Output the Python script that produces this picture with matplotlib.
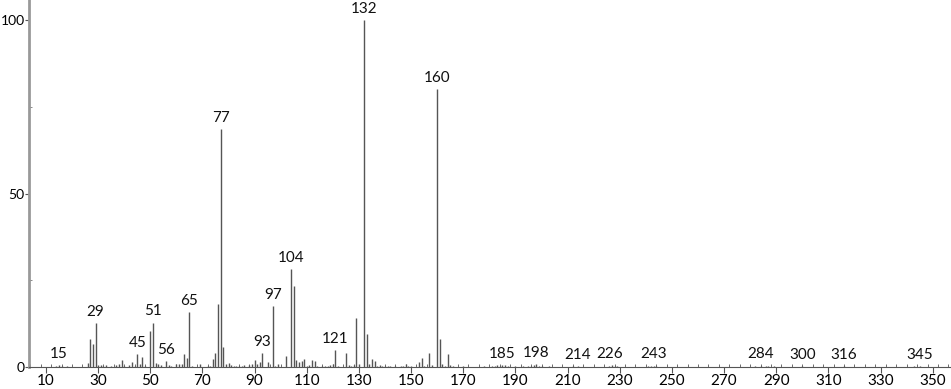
import matplotlib
matplotlib.use("Agg")
import matplotlib.pyplot as plt
from matplotlib.ticker import MultipleLocator

# m/z and relative intensity
mz = [14, 15, 16, 18, 26, 27, 28, 29, 30, 31, 32, 33, 35, 37, 38, 39, 40, 42, 43, 44, 45, 46, 47,
      48, 50, 51, 52, 53, 54, 56, 57, 58, 60, 61, 62, 63, 64, 65, 66, 69, 72, 73, 74, 75, 76, 77,
      78, 79, 80, 81, 82, 83, 84, 85, 86, 88, 89, 90, 91, 92, 93, 95, 97, 98, 99, 102, 104, 105,
      106, 107, 108, 109, 110, 111, 112, 113, 114, 116, 117, 118, 119, 120, 121, 122, 125, 126,
      127, 128, 129, 130, 132, 133, 134, 135, 136, 137, 138, 139, 140, 141, 142, 144, 146, 147,
      148, 149, 150, 153, 154, 155, 157, 158, 160, 161, 162, 163, 164, 165, 166, 170, 178, 181,
      182, 183, 184, 185, 186, 187, 190, 193, 195, 196, 197, 198, 199, 200, 203, 212, 214, 226,
      227, 228, 229, 241, 242, 243, 244, 282, 284, 286, 287, 289, 300, 316, 343, 345]
intensity = [0.4, 0.6, 0.4, 0.3, 1.2, 8.1, 6.6, 12.6, 0.5, 0.6, 0.4, 0.5, 0.3, 0.5, 0.8, 2.0,
             0.4, 0.6, 1.3, 0.4, 3.7, 0.9, 3.0, 0.4, 10.4, 12.8, 1.2, 0.8, 0.5, 1.7, 0.6, 0.4,
             0.8, 0.8, 0.8, 3.7, 2.6, 15.9, 0.4, 0.9, 0.3, 0.4, 2.2, 4.0, 18.2, 68.6, 5.7, 0.9,
             1.2, 0.5, 0.4, 0.3, 0.3, 0.3, 0.5, 0.6, 0.8, 2.0, 0.8, 1.3, 4.0, 1.3, 17.6, 0.4, 0.8,
             3.3, 28.2, 23.3, 2.0, 1.3, 1.7, 2.2, 0.4, 0.5, 2.0, 1.8, 0.4, 0.4, 0.4, 0.4, 0.5, 0.9,
             4.9, 0.4, 4.1, 0.5, 0.4, 0.6, 14.0, 0.9, 100.0, 9.4, 0.9, 2.2, 1.7, 0.4, 0.5, 0.4,
             0.4, 0.3, 0.4, 0.3, 0.4, 0.4, 0.9, 0.4, 0.3, 1.3, 2.7, 0.4, 4.1, 0.5, 80.1, 8.1, 1.0,
             0.4, 3.7, 0.5, 0.4, 0.2, 0.3, 0.4, 0.4, 0.5, 0.4, 0.6, 0.6, 0.4, 0.3, 0.3, 0.4, 0.3,
             0.5, 0.8, 0.4, 0.3, 0.2, 0.2, 0.3, 0.4, 0.5, 0.4, 0.3, 0.3, 0.4, 0.4, 0.3, 0.3, 0.4,
             0.3, 0.4, 0.4, 0.2, 0.2, 0.2, 0.3]

labeled = [15, 29, 45, 51, 56, 65, 77, 93, 97, 104, 121, 132, 160, 185, 198, 214, 226, 243,
           284, 300, 316, 345]

plt.rcParams['font.family'] = ['Lato', 'DejaVu Sans']
plt.rcParams['font.size'] = 11

fig = plt.figure(figsize=(9.51, 3.89), dpi=100)
ax = fig.add_axes([0.0305, 0.0566, 0.9695, 0.9434])

ax.vlines(mz, 0, intensity, colors='#555555', linewidth=1.0)

peak = dict(zip(mz, intensity))
for m in labeled:
    ax.annotate(str(m), (m, peak[m]), xytext=(0, 3), textcoords='offset points',
                ha='center', va='bottom', fontsize=11, color='#111111')

ax.set_xlim(3.5, 357)
ax.set_ylim(0, 105.8)

for s in ['top', 'right']:
    ax.spines[s].set_visible(False)
ax.spines['left'].set_color('#999999')
ax.spines['left'].set_linewidth(2)
ax.spines['bottom'].set_color('#555555')
ax.spines['bottom'].set_linewidth(0.8)

ax.set_xticks(range(10, 351, 20))
ax.xaxis.set_minor_locator(MultipleLocator(4))
ax.set_yticks([0, 50, 100])
ax.yaxis.set_minor_locator(MultipleLocator(25))
ax.tick_params(axis='x', which='major', length=4, width=0.8, color='#555555', pad=1)
ax.tick_params(axis='x', which='minor', length=2, width=0.6, color='#555555', direction='in')
ax.tick_params(axis='y', which='major', length=3, width=0.8, color='#555555', pad=0,
               labelsize=10)
ax.tick_params(axis='y', which='minor', length=2, width=0.6, color='#777777', direction='in')

fig.savefig('out.png', dpi=100)
